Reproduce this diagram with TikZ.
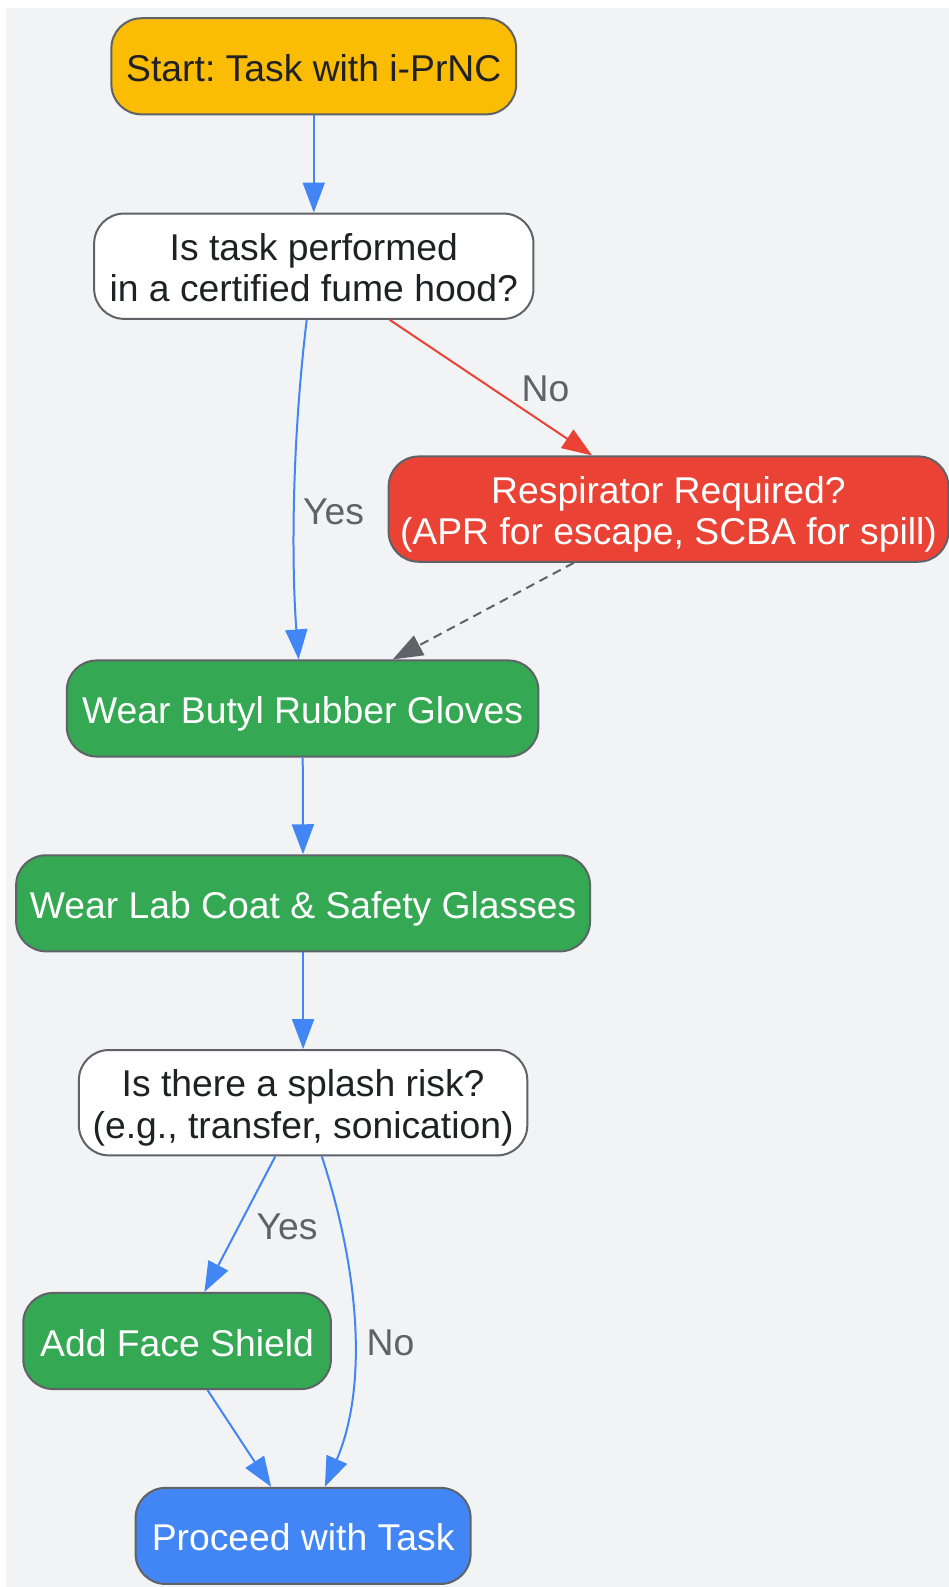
\documentclass[tikz,border=0pt]{standalone}
\usepackage{fontspec}
\setmainfont{Liberation Sans}
\frenchspacing
\usepackage{tikz}
\usetikzlibrary{
  arrows.meta
  , positioning
}
\definecolor{bg}{HTML}{F1F3F4}
\definecolor{ink}{HTML}{202124}
\definecolor{edgegray}{HTML}{5F6368}
\definecolor{startyellow}{HTML}{FBBC04}
\definecolor{alertred}{HTML}{EA4335}
\definecolor{okgreen}{HTML}{34A853}
\definecolor{flowblue}{HTML}{4285F4}
% first line of a two-line box
\newcommand{\tallline}{\rule{0pt}{38.5pt}}

\begin{document}
\begin{tikzpicture}[x=1pt, y=-1pt]
      \tikzstyle{box template}=[rectangle, rounded corners=30pt, draw=edgegray, line width=2pt, minimum height=96.1pt, inner sep=0pt, align=center, font=\fontsize{37.3}{41.5}\selectfont, execute at begin node={\rule{0pt}{38.5pt}}, execute at end node={\rule[-8.5pt]{0pt}{0pt}}]
      \tikzstyle{question template}=[box template, fill=white, text=ink, minimum height=105.3pt]
      \tikzstyle{action template}=[box template, fill=okgreen, text=white]
      \tikzstyle{flow}=[-{Triangle[length=30pt, width=22pt]}, line width=2pt, draw=flowblue]
      \tikzstyle{answer}=[text=edgegray, font=\fontsize{37.3}{41.5}\selectfont]

      \useasboundingbox (0,0) rectangle (949,1587);
      \fill [bg] (6,8) rectangle (949,1587);

      \node [box template, fill=startyellow, text=ink, minimum width=404.8pt] (start) at (313.8,66.3) {Start: Task with i-PrNC};
      \node [question template, minimum width=439.3pt] (hood) at (313.8,266.2) {\tallline Is task performed\\in a certified fume hood?};
      \node [box template, fill=alertred, text=white, minimum width=559.7pt, minimum height=105.3pt] (resp) at (668.5,509.1) {\tallline Respirator Required?\\(APR for escape, SCBA for spill)};
      \node [action template, minimum width=471.6pt] (gloves) at (302.6,708.5) {Wear Butyl Rubber Gloves};
      \node [action template, minimum width=573.9pt] (coat) at (303.1,903.3) {Wear Lab Coat \& Safety Glasses};
      \node [question template, minimum width=448.4pt] (splash) at (303.1,1102.7) {\tallline Is there a splash risk?\\(e.g., transfer, sonication)};
      \node [action template, minimum width=307.7pt] (shield) at (177.1,1341) {Add Face Shield};
      \node [box template, fill=flowblue, text=white, minimum width=335pt] (proceed) at (303.1,1535.9) {Proceed with Task};

      \draw [flow] (start) -- (hood);
      \draw [flow] ([xshift=-7.1pt]hood.south) .. controls +(-15.2,126.5) and +(-7.1,-94.1) .. node[answer, pos=.53, xshift=39.5pt]{Yes} ([xshift=-4pt]gloves.north);
      \draw [flow, draw=alertred] ([xshift=75.9pt]hood.south) -- node[answer, pos=.51, xshift=52.6pt]{No} ([xshift=-76.4pt]resp.north);
      \draw [flow, draw=edgegray, dash pattern=on 9pt off 6pt] ([xshift=-94.6pt]resp.south) -- ([xshift=90.1pt]gloves.north);

      \draw [flow] (gloves) -- (coat);
      \draw [flow] (coat) -- (splash);

      \draw [flow] ([xshift=-27.8pt]splash.south) -- node[answer, pos=.52, xshift=48.6pt]{Yes} ([xshift=27.3pt]shield.north);
      \draw [flow] ([xshift=18.7pt]splash.south) .. controls +(42.5,130.6) and +(39.5,-91.1) .. node[answer, pos=.52, xshift=36.4pt]{No} ([xshift=21.8pt]proceed.north);
      \draw [flow] ([xshift=30.4pt]shield.south) -- ([xshift=-31.9pt]proceed.north);

    \end{tikzpicture}
\end{document}
